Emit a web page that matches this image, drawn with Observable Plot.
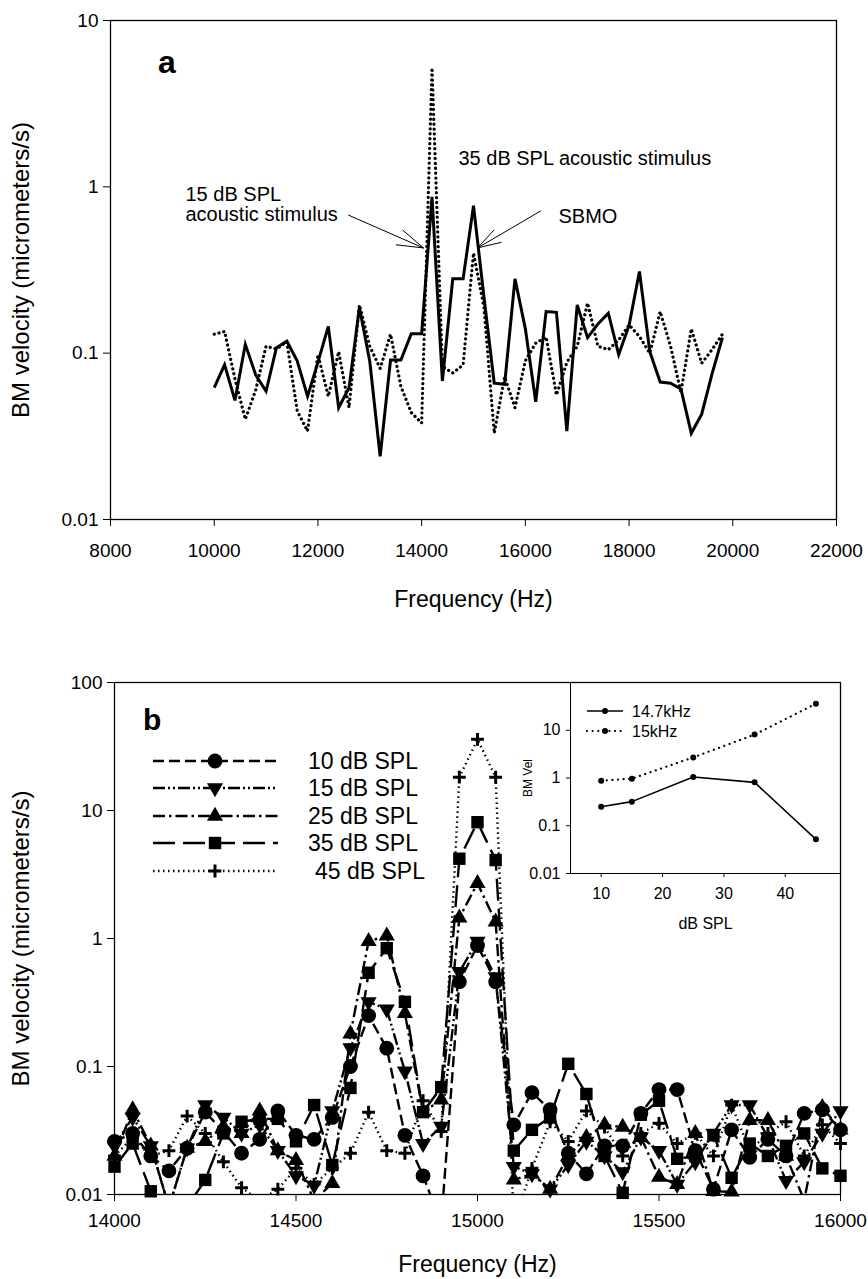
<!DOCTYPE html>
<html>
<head>
<meta charset="utf-8">
<script src="https://cdn.jsdelivr.net/npm/d3@7"></script>
<script src="https://cdn.jsdelivr.net/npm/@observablehq/plot@0.6"></script>
<style>
  body { margin: 0; background: #fff; }
  #page { position: relative; width: 868px; height: 1279px; overflow: hidden; background: #fff; }
  #page > svg { position: absolute; }
</style>
</head>
<body>
<div id="page"></div>
<script>
// ---------------- Panel a data ----------------
const freqA = [10000,10200,10400,10600,10800,11000,11200,11400,11600,11800,
               12000,12200,12400,12600,12800,13000,13200,13400,13600,13800,
               14000,14200,14400,14600,14800,15000,15200,15400,15600,15800,
               16000,16200,16400,16600,16800,17000,17200,17400,17600,17800,
               18000,18200,18400,18600,18800,19000,19200,19400,19600,19800];
// solid line: 15 dB SPL acoustic stimulus
const vel15dB_a = [0.062,0.085,0.052,0.113,0.074,0.059,0.108,0.118,0.090,0.055,
                   0.088,0.145,0.047,0.062,0.188,0.089,0.024,0.091,0.091,0.131,
                   0.131,0.87,0.068,0.28,0.28,0.77,0.22,0.066,0.065,0.28,
                   0.14,0.051,0.178,0.176,0.034,0.195,0.124,0.15,0.174,0.098,
                   0.147,0.31,0.102,0.067,0.066,0.061,0.033,0.043,0.075,0.124];
// dotted line: 35 dB SPL acoustic stimulus
const vel35dB_a = [0.13,0.135,0.07,0.04,0.06,0.11,0.106,0.117,0.045,0.034,
                   0.098,0.055,0.102,0.047,0.195,0.11,0.081,0.13,0.063,0.044,
                   0.038,5.2,0.083,0.076,0.085,0.40,0.19,0.033,0.072,0.047,
                   0.09,0.115,0.125,0.056,0.088,0.11,0.20,0.11,0.105,0.12,
                   0.148,0.126,0.10,0.178,0.11,0.058,0.14,0.087,0.105,0.13];
const xTicksA = [8000,10000,12000,14000,16000,18000,20000,22000];
const yTicksA = [0.01,0.1,1,10];
const annotTextsA = [
  {label: "35 dB SPL acoustic stimulus", f: 14710, v: 1.35},
  {label: "15 dB SPL\nacoustic stimulus", f: 9446, v: 0.62},
  {label: "SBMO", f: 16639, v: 0.606}
];
const annotArrowsA = [
  {f1: 12589, v1: 0.676, f2: 14036, v2: 0.429},
  {f1: 16292, v1: 0.715, f2: 15077, v2: 0.429}
];

// ---------------- Panel b data ----------------
const freqB = [14000,14050,14100,14150,14200,14250,14300,14350,14400,14450,
               14500,14550,14600,14650,14700,14750,14800,14850,14900,14950,
               15000,15050,15100,15150,15200,15250,15300,15350,15400,15450,
               15500,15550,15600,15650,15700,15750,15800,15850,15900,15950,16000];
const vel10dB = [0.026,0.03,0.02,0.0153,0.023,0.044,0.031,0.021,0.027,0.045,
                 0.029,0.027,0.04,0.1,0.25,0.139,0.029,0.014,0.006,0.46,
                 0.88,0.46,0.035,0.0625,0.046,0.021,0.0145,0.024,0.024,0.043,
                 0.066,0.066,0.022,0.011,0.032,0.0195,0.027,0.02,0.043,0.046,0.032];
const vel15dB = [0.024,0.04,0.024,0.008,0.023,0.05,0.04,0.03,0.035,0.022,
                 0.014,0.0118,0.045,0.14,0.32,0.28,0.092,0.025,0.034,0.55,
                 0.95,0.5,0.0165,0.0145,0.011,0.017,0.026,0.02,0.015,0.028,
                 0.022,0.012,0.018,0.03,0.05,0.05,0.028,0.0128,0.018,0.03,0.045];
const vel25dB = [0.02,0.046,0.024,0.008,0.023,0.026,0.034,0.03,0.045,0.022,
                 0.0185,0.009,0.0122,0.18,0.95,1.05,0.26,0.044,0.055,1.45,
                 2.7,1.35,0.013,0.0145,0.011,0.02,0.028,0.035,0.0336,0.028,
                 0.0137,0.012,0.03,0.0106,0.0105,0.038,0.038,0.02,0.009,0.048,0.032];
const vel35dB = [0.0165,0.025,0.0106,0.006,0.008,0.013,0.03,0.037,0.039,0.039,
                 0.026,0.05,0.017,0.068,0.54,0.84,0.32,0.044,0.069,4.2,
                 8.1,4.1,0.022,0.032,0.04,0.105,0.061,0.02,0.0103,0.042,
                 0.054,0.019,0.02,0.029,0.0135,0.025,0.02,0.024,0.03,0.016,0.014];
const vel45dB = [0.02,0.028,0.02,0.022,0.041,0.03,0.018,0.0113,0.009,0.011,
                 0.016,0.012,0.016,0.021,0.044,0.022,0.021,0.054,0.031,18.2,
                 36,18.2,0.006,0.016,0.037,0.026,0.045,0.0336,0.02,0.03,
                 0.036,0.025,0.03,0.02,0.05,0.022,0.03,0.037,0.02,0.035,0.025];
const seriesLabelsB = ["10 dB SPL","15 dB SPL","25 dB SPL","35 dB SPL","45 dB SPL"];
const xTicksB = [14000,14500,15000,15500,16000];
const yTicksB = [0.01,0.1,1,10,100];

// ---------------- Inset data ----------------
const insetLevels = [10,15,25,35,45];
const inset14_7kHz = [0.25,0.32,1.05,0.81,0.052];
const inset15kHz = [0.88,0.97,2.7,8.1,36];
const insetLabels = ["14.7kHz","15kHz"];
const insetXTicks = [10,20,30,40];
const insetYTicks = [0.01,0.1,1,10];

// ---------------- Styles ----------------
const FONT = '"Liberation Sans", Arial, Helvetica, sans-serif';
const triangleDown = {
  draw(context, size) {
    const y = -Math.sqrt(size / (Math.sqrt(3) * 3));
    context.moveTo(0, -y * 2);
    context.lineTo(-Math.sqrt(3) * y, y);
    context.lineTo(Math.sqrt(3) * y, y);
    context.closePath();
  }
};
const seriesStyleB = [
  {dash: "11,5",            symbol: "circle",   d3sym: d3.symbolCircle, r: 7.4, filled: true},
  {dash: "12,3,2,3,2,3",    symbol: triangleDown, d3sym: triangleDown,  r: 6.0, filled: true},
  {dash: "12,4,2.5,4",      symbol: "triangle", d3sym: d3.symbolTriangle, r: 6.0, filled: true},
  {dash: "22,8",            symbol: "square",   d3sym: d3.symbolSquare, r: 7.0, filled: true},
  {dash: "1.5,3.5",         symbol: "plus",     d3sym: d3.symbolPlus,   r: 4.2, filled: false}
];
const valuesB = [vel10dB, vel15dB, vel25dB, vel35dB, vel45dB];

const page = document.getElementById("page");

function setFont(svg, sel, size) {
  d3.select(svg).selectAll(sel).attr("font-size", size);
}

// ---------------- Panel a ----------------
const rowsA = freqA.map((f, i) => ({f, v15: vel15dB_a[i], v35: vel35dB_a[i]}));
const chartA = Plot.plot({
  width: 868, height: 640,
  marginTop: 20, marginRight: 32, marginBottom: 121, marginLeft: 110,
  style: {fontFamily: FONT, fontSize: "19px", background: "transparent", color: "#000"},
  x: {type: "linear", domain: [8000, 22000]},
  y: {type: "log", domain: [0.01, 10]},
  marks: [
    Plot.axisX({ticks: xTicksA, tickFormat: d => String(d), tickSize: 7, tickPadding: 17,
      label: "Frequency (Hz)", labelAnchor: "center", labelOffset: 87, labelArrow: "none"}),
    Plot.axisY({ticks: yTicksA, tickFormat: d => String(d), tickSize: 7, tickPadding: 5,
      label: "BM velocity (micrometers/s)", labelAnchor: "center", labelOffset: 99, labelArrow: "none"}),
    Plot.frame({stroke: "#000", strokeWidth: 1.3}),
    Plot.line(rowsA, {x: "f", y: "v35", stroke: "#000", strokeWidth: 3.2,
      strokeDasharray: "0.1,4.8", strokeLinecap: "round", strokeLinejoin: "round"}),
    Plot.line(rowsA, {x: "f", y: "v15", stroke: "#000", strokeWidth: 3,
      strokeLinejoin: "miter", strokeMiterlimit: 4, strokeLinecap: "butt"}),
    Plot.text(annotTextsA, {x: "f", y: "v", text: "label", textAnchor: "start",
      lineAnchor: "bottom", lineHeight: 1.0, fontSize: 20, fill: "#000"}),
    Plot.arrow(annotArrowsA, {x1: "f1", y1: "v1", x2: "f2", y2: "v2", stroke: "#000",
      strokeWidth: 1, headLength: 45, headAngle: 34, bend: 0})
  ]
});
setFont(chartA, 'g[aria-label="x-axis label"] text', 23);
setFont(chartA, 'g[aria-label="y-axis label"] text', 24);
chartA.style.left = "0px"; chartA.style.top = "0px";
page.appendChild(chartA);

// ---------------- Panel b ----------------
const rowsB = [];
valuesB.forEach((vals, s) => freqB.forEach((f, i) => rowsB.push({f, v: vals[i], s})));
const lineMarks = seriesStyleB.map((st, s) =>
  Plot.line(rowsB.filter(d => d.s === s), {x: "f", y: "v", stroke: "#000", strokeWidth: 2.4,
    strokeDasharray: st.dash, strokeLinecap: "butt", strokeLinejoin: "round", clip: true}));
const dotMarks = seriesStyleB.map((st, s) =>
  Plot.dot(rowsB.filter(d => d.s === s && d.v >= 0.01), {x: "f", y: "v", symbol: st.symbol, r: st.r,
    fill: st.filled ? "#000" : "none", stroke: st.filled ? "none" : "#000",
    strokeWidth: st.filled ? 0 : 3}));
const chartB = Plot.plot({
  width: 868, height: 639,
  marginTop: 42, marginRight: 28, marginBottom: 85, marginLeft: 114,
  style: {fontFamily: FONT, fontSize: "19px", background: "transparent", color: "#000"},
  x: {type: "linear", domain: [14000, 16000]},
  y: {type: "log", domain: [0.01, 100]},
  marks: [
    Plot.axisX({ticks: xTicksB, tickFormat: d => String(d), tickSize: 7, tickPadding: 12,
      label: "Frequency (Hz)", labelAnchor: "center", labelOffset: 77, labelArrow: "none"}),
    Plot.axisY({ticks: yTicksB, tickFormat: d => String(d), tickSize: 7, tickPadding: 5,
      label: "BM velocity (micrometers/s)", labelAnchor: "center", labelOffset: 103, labelArrow: "none"}),
    Plot.frame({stroke: "#000", strokeWidth: 1.3}),
    ...lineMarks,
    ...dotMarks
  ]
});
setFont(chartB, 'g[aria-label="x-axis label"] text', 23);
setFont(chartB, 'g[aria-label="y-axis label"] text', 24);
chartB.style.left = "0px"; chartB.style.top = "640px";
page.appendChild(chartB);

// ---------------- Inset ----------------
const rowsInset = insetLevels.map((lv, i) => ({lv, a: inset14_7kHz[i], b: inset15kHz[i]}));
const chartInset = Plot.plot({
  width: 346, height: 270,
  marginTop: 12, marginRight: 6, marginBottom: 67, marginLeft: 70,
  style: {fontFamily: FONT, fontSize: "16px", background: "transparent", color: "#000"},
  x: {type: "linear", domain: [5, 49]},
  y: {type: "log", domain: [0.01, 100]},
  marks: [
    Plot.axisX({ticks: insetXTicks, tickFormat: d => String(d), tickSize: 4, tickPadding: 10,
      label: "dB SPL", labelAnchor: "center", labelOffset: 55, labelArrow: "none"}),
    Plot.axisY({ticks: insetYTicks, tickFormat: d => String(d), tickSize: 4, tickPadding: 6,
      label: "BM Vel", labelAnchor: "center", labelOffset: 47, labelArrow: "none"}),
    Plot.frame({stroke: "#000", strokeWidth: 1}),
    Plot.line(rowsInset, {x: "lv", y: "b", stroke: "#000", strokeWidth: 2.2,
      strokeDasharray: "0.1,5.5", strokeLinecap: "round"}),
    Plot.line(rowsInset, {x: "lv", y: "a", stroke: "#000", strokeWidth: 1.6}),
    Plot.dot(rowsInset, {x: "lv", y: "b", r: 3, fill: "#000"}),
    Plot.dot(rowsInset, {x: "lv", y: "a", r: 3, fill: "#000"})
  ]
});
setFont(chartInset, 'g[aria-label="y-axis label"] text', 12);
chartInset.style.left = "500px"; chartInset.style.top = "670px";
page.appendChild(chartInset);

// ---------------- Overlay: panel letters and legends ----------------
const ov = d3.create("svg").attr("width", 868).attr("height", 1279)
  .style("left", "0px").style("top", "0px").style("pointer-events", "none")
  .attr("font-family", FONT);
ov.append("text").attr("x", 158).attr("y", 73).attr("font-size", 32).attr("font-weight", "bold").text("a");
ov.append("text").attr("x", 143).attr("y", 730).attr("font-size", 30).attr("font-weight", "bold").text("b");

const legRowY = [761, 788, 816, 843, 871];
seriesLabelsB.forEach((lab, s) => {
  const st = seriesStyleB[s], y = legRowY[s];
  ov.append("line").attr("x1", 153).attr("x2", 278).attr("y1", y).attr("y2", y)
    .attr("stroke", "#000").attr("stroke-width", 2.4).attr("stroke-dasharray", st.dash);
  const size = Math.PI * st.r * st.r;
  ov.append("path").attr("transform", `translate(215,${y})`)
    .attr("d", d3.symbol(st.d3sym, size)())
    .attr("fill", st.filled ? "#000" : "none").attr("stroke", st.filled ? "none" : "#000")
    .attr("stroke-width", st.filled ? 0 : 3);
  ov.append("text").attr("x", s === 4 ? 315 : 308).attr("y", y + 8).attr("font-size", 23).text(lab);
});

const insetLegY = [711, 731];
insetLabels.forEach((lab, k) => {
  const y = insetLegY[k];
  const ln = ov.append("line").attr("x1", 587).attr("x2", 623).attr("y1", y).attr("y2", y)
    .attr("stroke", "#000");
  if (k === 0) ln.attr("stroke-width", 1.6);
  else ln.attr("stroke-width", 2.2).attr("stroke-dasharray", "0.1,5.5").attr("stroke-linecap", "round");
  ov.append("circle").attr("cx", 605).attr("cy", y).attr("r", 3).attr("fill", "#000");
  ov.append("text").attr("x", 632).attr("y", y + 6).attr("font-size", 16).text(lab);
});
page.appendChild(ov.node());
</script>
</body>
</html>
